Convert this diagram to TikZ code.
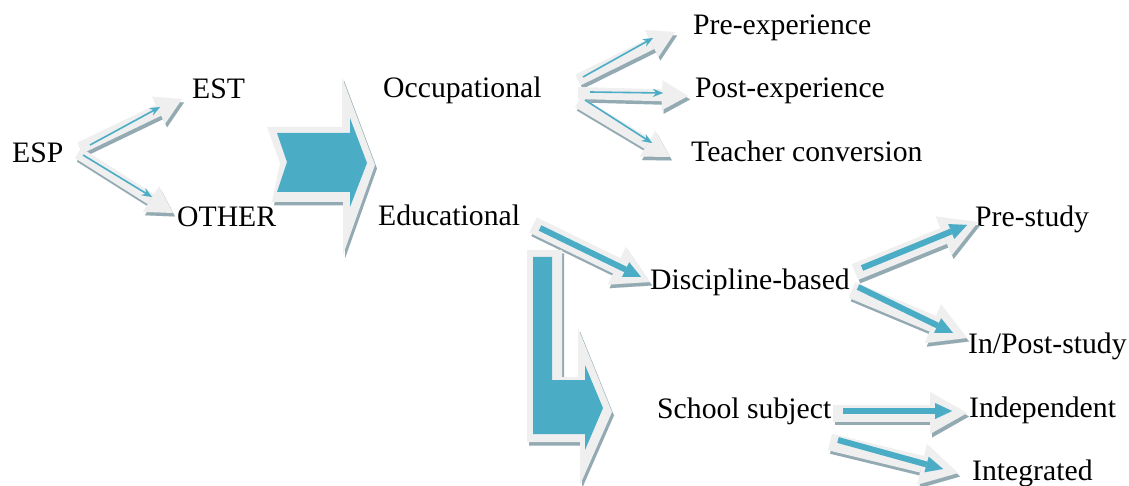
\documentclass[tikz,border=0pt]{standalone}
\usepackage{fontspec}
\setmainfont{Liberation Serif}
\usetikzlibrary{arrows.meta}
\definecolor{tealc}{HTML}{4BACC6}
\definecolor{bodyc}{HTML}{EFEFEF}
\definecolor{shadowc}{HTML}{93AAB3}
\begin{document}
\begin{tikzpicture}[x=1pt,y=-1pt,
  lbl/.style={font=\fontsize{29.7}{34}\selectfont, inner sep=0pt, anchor=base west, text=black},
  shadowshift/.style={transform canvas={shift={(2pt,-3.5pt)}}},
  thinbody/.style={draw=bodyc, line width=12pt, -{Triangle[length=26pt,width=30pt,line width=0.01pt]}},
  thinshadow/.style={thinbody, draw=shadowc, shadowshift},
  thinteal/.style={draw=tealc, line width=1.6pt, -{Stealth[length=10pt,width=8pt,line width=0.01pt]}},
  thickbody/.style={draw=bodyc, line width=17pt, -{Triangle[length=37pt,width=42pt,line width=0.01pt]}},
  thickshadow/.style={thickbody, draw=shadowc, shadowshift},
  thickteal/.style={draw=tealc, line width=6pt, -{Triangle[length=17pt,width=16pt,line width=0.01pt]}},
  bigbody/.style={fill=bodyc},
  bigshadow/.style={fill=shadowc, shadowshift},
  bigteal/.style={fill=tealc}
]
\useasboundingbox (0,0) rectangle (1129,486);

% labels
\node[lbl] (esp) at (12,163) {ESP};
\node[lbl] (est) at (192,99) {EST};
\node[lbl] (other) at (177,227) {OTHER};
\node[lbl] (occ) at (383,98) {Occupational};
\node[lbl] (edu) at (378,226) {Educational};
\node[lbl] (pre) at (693,35) {Pre-experience};
\node[lbl] (post) at (695,98) {Post-experience};
\node[lbl] (teach) at (691,162) {Teacher conversion};
\node[lbl] (disc) at (650,290) {Discipline-based};
\node[lbl] (prest) at (975,227) {Pre-study};
\node[lbl] (inpost) at (968,353) {In/Post-study};
\node[lbl] (school) at (657,418) {School subject};
\node[lbl] (indep) at (969,417) {Independent};
\node[lbl] (integ) at (972,480) {Integrated};

% arrow end points
\coordinate (a1s) at (80,148);  \coordinate (a1e) at (182,99);
\coordinate (t1s) at (90,145);  \coordinate (t1e) at (160,107);
\coordinate (a2s) at (78,153);  \coordinate (a2e) at (173,213);
\coordinate (t2s) at (83,155);  \coordinate (t2e) at (152,197);
\coordinate (a3s) at (578,80);  \coordinate (a3e) at (675,32);
\coordinate (t3s) at (583,77);  \coordinate (t3e) at (653,38);
\coordinate (a4s) at (578,93);  \coordinate (a4e) at (688,96);
\coordinate (t4s) at (590,92);  \coordinate (t4e) at (663,93);
\coordinate (a5s) at (578,102); \coordinate (a5e) at (670,157);
\coordinate (t5s) at (585,100); \coordinate (t5e) at (652,143);
\coordinate (a6s) at (533,225); \coordinate (a6e) at (650,282);
\coordinate (t6s) at (540,228); \coordinate (t6e) at (641,277);
\coordinate (a7s) at (855,272); \coordinate (a7e) at (978,222);
\coordinate (t7s) at (862,268); \coordinate (t7e) at (967,225);
\coordinate (a8s) at (852,290); \coordinate (a8e) at (967,338);
\coordinate (t8s) at (858,287); \coordinate (t8e) at (953,333);
\coordinate (a9s) at (833,413); \coordinate (a9e) at (967,413);
\coordinate (t9s) at (843,411); \coordinate (t9e) at (952,411);
\coordinate (a10s) at (830,442); \coordinate (a10e) at (958,473);
\coordinate (t10s) at (838,440); \coordinate (t10e) at (943,469);

% shadows
\fill[bigshadow] (267,127) -- (342,127) -- (342,77) -- (375,165) -- (343,255) -- (343,202) -- (272,202) -- (280,163) -- cycle;
\fill[bigshadow] (527,250) -- (562,250) -- (562,377) -- (578,377) -- (578,328) -- (612,412) -- (580,485) -- (580,442) -- (527,442) -- cycle;
\foreach \i in {1,...,5} {\draw[thinshadow] (a\i s) -- (a\i e);}
\foreach \i in {6,...,10} {\draw[thickshadow] (a\i s) -- (a\i e);}

% bodies
\fill[bigbody] (267,127) -- (342,127) -- (342,77) -- (375,165) -- (343,255) -- (343,202) -- (272,202) -- (280,163) -- cycle;
\fill[bigbody] (527,250) -- (562,250) -- (562,377) -- (578,377) -- (578,328) -- (612,412) -- (580,485) -- (580,442) -- (527,442) -- cycle;
\foreach \i in {1,...,5} {\draw[thinbody] (a\i s) -- (a\i e);}
\foreach \i in {6,...,10} {\draw[thickbody] (a\i s) -- (a\i e);}

% teal cores
\fill[bigteal] (277,133) -- (350,133) -- (350,118) -- (367,163) -- (350,207) -- (350,192) -- (277,192) -- (287,162) -- cycle;
\fill[bigteal] (533,257) -- (552,257) -- (552,380) -- (585,380) -- (585,365) -- (603,408) -- (585,450) -- (585,434) -- (533,434) -- cycle;
\foreach \i in {1,...,5} {\draw[thinteal] (t\i s) -- (t\i e);}
\foreach \i in {6,...,10} {\draw[thickteal] (t\i s) -- (t\i e);}
\end{tikzpicture}
\end{document}
